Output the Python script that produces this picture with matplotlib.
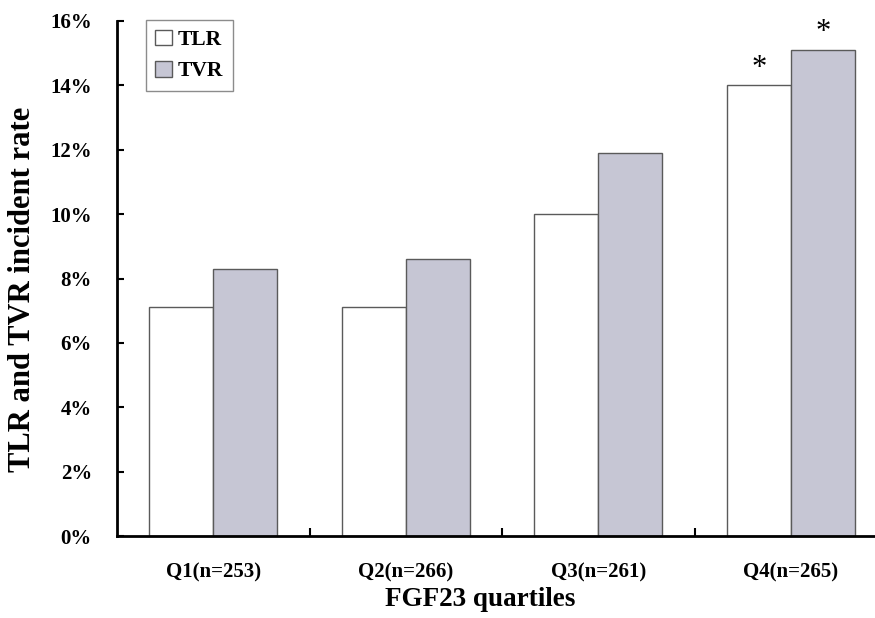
import matplotlib
matplotlib.use("Agg")
import matplotlib.pyplot as plt
import numpy as np

# Data
groups = ["Q1(n=253)", "Q2(n=266)", "Q3(n=261)", "Q4(n=265)"]
tlr = [7.1, 7.1, 10.0, 14.0]
tvr = [8.3, 8.6, 11.9, 15.1]
tlr_sig = [False, False, False, True]
tvr_sig = [False, False, False, True]
yticks = [0, 2, 4, 6, 8, 10, 12, 14, 16]

plt.rcParams["font.family"] = ["Liberation Serif", "DejaVu Serif"]

W, H = 875, 618
fig = plt.figure(figsize=(W / 100, H / 100), dpi=100)
ax = fig.add_axes([117 / W, 1 - 536 / H, (W - 117) / W, 515 / H])

x = np.arange(len(groups))
bw = 1 / 3
edge = "#5a5a5a"
ax.bar(x - bw / 2, tlr, bw, color="white", edgecolor=edge, linewidth=1.0, label="TLR")
ax.bar(x + bw / 2, tvr, bw, color="#c6c6d4", edgecolor=edge, linewidth=1.0, label="TVR")

for xi, v, s in zip(x - bw / 2, tlr, tlr_sig):
    if s:
        ax.annotate("*", (xi, v), xytext=(0, 2), textcoords="offset points",
                    ha="center", va="bottom", fontsize=22)
for xi, v, s in zip(x + bw / 2, tvr, tvr_sig):
    if s:
        ax.annotate("*", (xi, v), xytext=(0, 2), textcoords="offset points",
                    ha="center", va="bottom", fontsize=22)

ax.set_ylim(0, 16)
ax.set_xlim(-0.5, -0.5 + (W - 117) / 192.5)
ax.set_yticks(yticks)
ax.set_yticklabels([f"{t}%" for t in yticks], fontsize=15, fontweight="bold")
ax.tick_params(axis="y", direction="in", length=5, width=1.5, pad=18)

ax.set_xticks(x)
ax.set_xticklabels(groups, fontsize=15, fontweight="bold")
ax.set_xticks([0.5, 1.5, 2.5], minor=True)
ax.tick_params(axis="x", which="major", length=0, pad=19)
ax.tick_params(axis="x", which="minor", direction="in", length=6, width=1.5)

for side in ("top", "right"):
    ax.spines[side].set_visible(False)
for side in ("left", "bottom"):
    ax.spines[side].set_linewidth(2)
    ax.spines[side].set_color("black")

ax.set_ylabel("TLR and TVR incident rate", fontsize=22, fontweight="bold")
ax.yaxis.set_label_coords(-0.106, 0.478)
ax.set_xlabel("FGF23 quartiles", fontsize=19.5, fontweight="bold")
ax.xaxis.set_label_coords(0.479, -0.1)

leg = ax.legend(loc="upper left", bbox_to_anchor=(0.038, 1.002),
                prop={"weight": "bold", "size": 15.5}, frameon=True, fancybox=False,
                handlelength=0.75, handleheight=0.75, handletextpad=0.3,
                borderpad=0.45, labelspacing=0.5, borderaxespad=0)
leg.get_frame().set_edgecolor("#707070")
leg.get_frame().set_linewidth(1.0)

fig.savefig("out.png", dpi=100)
